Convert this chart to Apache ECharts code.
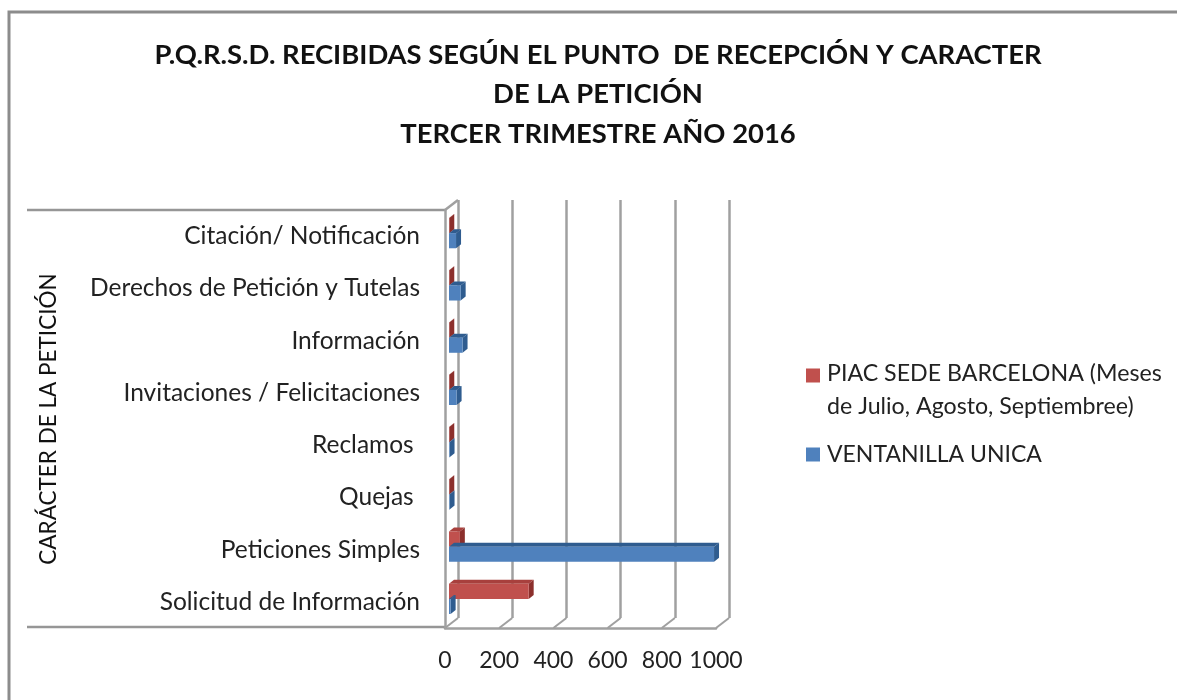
<!DOCTYPE html>
<html><head><meta charset="utf-8">
<style>html,body{margin:0;padding:0;background:#fff}#c{width:1177px;height:700px}</style>
<script src="https://cdn.jsdelivr.net/npm/echarts@6/dist/echarts.min.js"></script>
</head><body><div id="c"></div>
<script>
const categories = ['Citación/ Notificación','Derechos de Petición y Tutelas','Información','Invitaciones / Felicitaciones','Reclamos ','Quejas ','Peticiones Simples','Solicitud de Información'];
const piac = [1,1,1,1,1,1,40,294];
const ventanilla = [26,43,50,28,2,2,978,6];
const ticks = [0,200,400,600,800,1000];
const redName = 'PIAC SEDE BARCELONA (Meses\nde Julio, Agosto, Septiembree)';
const blueName = 'VENTANILLA UNICA';
const font = 'Lato';
const wall = '#a0a0a0';

function cuboid(colors, up){
  return function(params, api){
    const v = api.value(0), idx = api.value(1);
    const zero = api.coord([0, idx]), end = api.coord([v, idx]);
    const band = api.size([0,1])[1], h = band*0.29;
    const ox = 4, oy = -3, dx = 5, dy = 4;
    const x0 = zero[0]+ox, x1 = end[0]+ox;
    const y0 = zero[1]+oy-(up?h:0), y1 = y0+h;
    return {type:'group',children:[
      {type:'polygon',shape:{points:[[x0,y0],[x1,y0],[x1+dx,y0-dy],[x0+dx,y0-dy]]},style:{fill:colors[1]}},
      {type:'polygon',shape:{points:[[x1,y0],[x1+dx,y0-dy],[x1+dx,y1-dy],[x1,y1]]},style:{fill:colors[2]}},
      {type:'rect',shape:{x:x0,y:y0,width:x1-x0,height:h},style:{fill:colors[0]}}
    ]};
  };
}
function floorLines(params, api){
  const p = api.coord([api.value(0), 7]);
  const bottom = params.coordSys.y+params.coordSys.height;
  return {type:'line',shape:{x1:p[0],y1:bottom,x2:p[0]+13,y2:bottom-10},style:{stroke:wall,lineWidth:2}};
}
const chart = echarts.init(document.getElementById('c'),null,{renderer:'canvas'});
chart.setOption({
  backgroundColor:'#fff',
  animation:false,
  textStyle:{fontFamily:font},
  title:{text:'P.Q.R.S.D. RECIBIDAS SEGÚN EL PUNTO  DE RECEPCIÓN Y CARACTER\nDE LA PETICIÓN\nTERCER TRIMESTRE AÑO 2016',
    left:593,top:30,textAlign:'center',
    textStyle:{fontFamily:font,fontSize:27.4,fontWeight:'bold',color:'#111',lineHeight:39.5}},
  legend:[
    {orient:'vertical',left:801,top:352,itemWidth:16,itemHeight:43,itemGap:0,selectedMode:false,
     textStyle:{fontFamily:font,fontSize:23.2,color:'#222',lineHeight:33},
     data:[{name:redName,icon:'path://M0 0h14v14h-14z M0 43h16',itemStyle:{color:'#c0504d'}}]},
    {orient:'vertical',left:801,top:433,itemWidth:16,itemHeight:14,selectedMode:false,
     textStyle:{fontFamily:font,fontSize:23,color:'#222',lineHeight:33},
     data:[{name:blueName,icon:'path://M0 0h14v14h-14z M16 0h0',itemStyle:{color:'#4f81bd'}}]}
  ],
  graphic:[
    {type:'rect',shape:{x:9,y:12,width:1300,height:800},style:{fill:'none',stroke:'#8c8c8c',lineWidth:3},silent:true},
    {type:'line',shape:{x1:27,y1:210,x2:445,y2:210},style:{stroke:'#969696',lineWidth:2.5},silent:true},
    {type:'line',shape:{x1:27,y1:627,x2:445,y2:627},style:{stroke:'#969696',lineWidth:2.5},silent:true},
    {type:'line',shape:{x1:445,y1:210,x2:458,y2:200},style:{stroke:wall,lineWidth:2.5},silent:true}
  ],
  grid:[
    {left:445,top:210,width:271,height:418},
    {left:458,top:200,width:271,height:418}
  ],
  xAxis:[
    {gridIndex:0,type:'value',min:0,max:1000,interval:200,
     axisLine:{show:true,lineStyle:{color:wall,width:2.5}},axisTick:{show:false},splitLine:{show:false},
     axisLabel:{color:'#222',fontSize:23,margin:21,hideOverlap:false,showMinLabel:true,showMaxLabel:true,
       formatter:v=>String(v)}},
    {gridIndex:1,type:'value',min:0,max:1000,interval:200,
     axisLine:{show:false},axisTick:{show:false},axisLabel:{show:false},
     splitLine:{show:true,lineStyle:{color:wall,width:2.5}}}
  ],
  yAxis:[
    {gridIndex:0,type:'category',data:categories,inverse:true,
     name:'CARÁCTER DE LA PETICIÓN',nameLocation:'middle',nameRotate:90,nameGap:385,
     nameTextStyle:{fontFamily:font,fontSize:22.5,color:'#111'},
     axisLine:{show:true,lineStyle:{color:wall,width:2.5}},axisTick:{show:false},
     axisLabel:{color:'#222',fontSize:24.5,margin:25,interval:0},splitLine:{show:false}},
    {gridIndex:1,type:'category',data:categories,inverse:true,show:false}
  ],
  series:[
    {type:'custom',name:'floor',xAxisIndex:0,yAxisIndex:0,silent:true,z:1,renderItem:floorLines,
     encode:{x:0,y:1},data:ticks.map(t=>[t,7])},
    {type:'custom',name:redName,xAxisIndex:0,yAxisIndex:0,z:3,itemStyle:{color:'#c0504d'},
     renderItem:cuboid(['#c0504d','#a8403d','#8c2f2c'],true),encode:{x:0,y:1},
     data:piac.map((v,i)=>[v,i])},
    {type:'custom',name:blueName,xAxisIndex:0,yAxisIndex:0,z:4,itemStyle:{color:'#4f81bd'},
     renderItem:cuboid(['#4f81bd','#2f5c8f','#2f5c8f'],false),encode:{x:0,y:1},
     data:ventanilla.map((v,i)=>[v,i])}
  ]
});
</script></body></html>
